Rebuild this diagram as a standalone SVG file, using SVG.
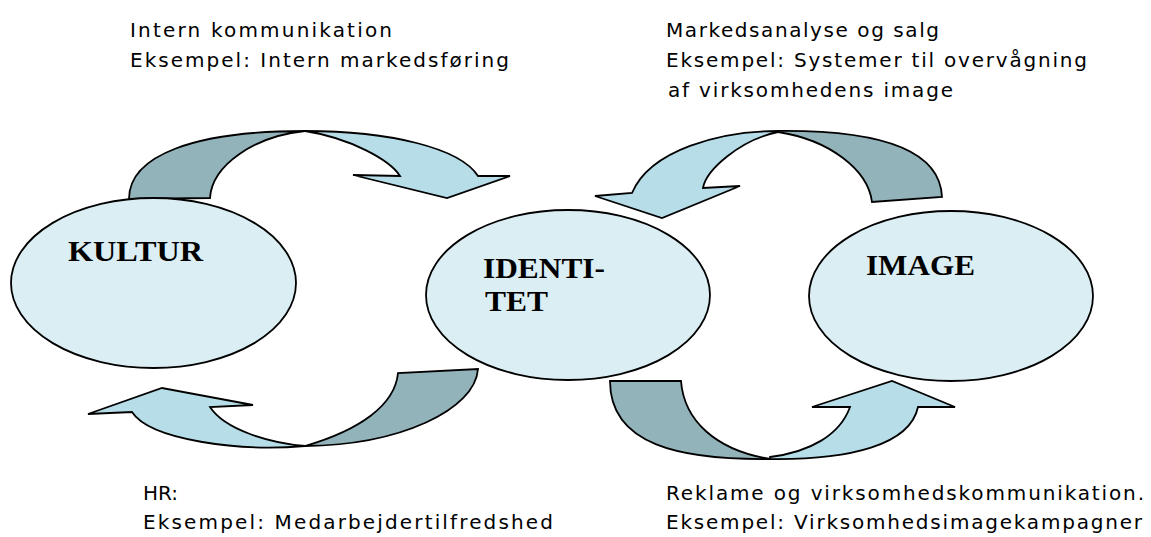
<svg xmlns="http://www.w3.org/2000/svg" width="1151" height="537" viewBox="0 0 1151 537">
<style>
.ell{fill:#DAEEF3;stroke:#000;stroke-width:1.8}
.lt{fill:#B6DDE8;stroke:#000;stroke-width:1.8;stroke-linejoin:miter}
.dk{fill:#93B3BB;stroke:#000;stroke-width:1.8;stroke-linejoin:miter}
.lbl{font-family:"Liberation Serif","Times New Roman",serif;font-weight:bold;font-size:29px;fill:#000}
.note{font-family:"DejaVu Sans",Verdana,sans-serif;font-size:20px;fill:#000}
</style>
<rect width="1151" height="537" fill="#fff"/>
<g id="connectors">
  <g id="arrow-top-left">
    <path class="dk" d="M129,199 C129,155 195,131 305,131 C255,136 212,165 210,198 Z"/>
    <path class="lt" d="M305,131 C390,131 460,148 478,176 L510,176 L447,198 L353,175 L400,176 C390,160 350,138 305,131 Z"/>
  </g>
  <g id="arrow-top-right">
    <path class="dk" d="M778,131 C880,130 940,150 942,197 L872,202 C868,170 830,140 778,132 Z"/>
    <path class="lt" d="M778,131 C720,131 650,150 632,193 L595,196 L662,218 L740,186 L703,188 C706,170 740,140 778,132 Z"/>
  </g>
  <g id="arrow-bottom-left">
    <path class="dk" d="M478,369 C475,410 400,445 305,446 C360,430 395,405 398,373 Z"/>
    <path class="lt" d="M305,446 C240,452 150,440 132,412 L88,414 L162,388 L253,405 L210,407 C225,430 270,443 305,446 Z"/>
  </g>
  <g id="arrow-bottom-right">
    <path class="dk" d="M610,381 C610,445 680,460 770,459 C715,450 684,420 681,381 Z"/>
    <path class="lt" d="M770,459 C850,460 910,445 918,407 L955,407 L892,381 L812,407 L850,407 C840,435 810,452 770,457 Z"/>
  </g>
</g>
<g id="node-kultur">
  <ellipse class="ell" cx="153.5" cy="283" rx="142.5" ry="85"/>
  <text class="lbl" x="68" y="261" textLength="135" lengthAdjust="spacingAndGlyphs">KULTUR</text>
</g>
<g id="node-identitet">
  <ellipse class="ell" cx="568" cy="295" rx="142" ry="85"/>
  <text class="lbl" x="483" y="278" textLength="122" lengthAdjust="spacingAndGlyphs">IDENTI-</text>
  <text class="lbl" x="485" y="311" textLength="63" lengthAdjust="spacingAndGlyphs">TET</text>
</g>
<g id="node-image">
  <ellipse class="ell" cx="951" cy="296" rx="142" ry="85"/>
  <text class="lbl" x="866" y="275" textLength="109" lengthAdjust="spacingAndGlyphs">IMAGE</text>
</g>
<g id="note-top-left">
  <text class="note" x="130" y="37" textLength="262" lengthAdjust="spacing">Intern kommunikation</text>
  <text class="note" x="130" y="67" textLength="379" lengthAdjust="spacing">Eksempel: Intern markedsføring</text>
</g>
<g id="note-top-right">
  <text class="note" x="666" y="37" textLength="273" lengthAdjust="spacing">Markedsanalyse og salg</text>
  <text class="note" x="666" y="67" textLength="421" lengthAdjust="spacing">Eksempel: Systemer til overvågning</text>
  <text class="note" x="668" y="97" textLength="285" lengthAdjust="spacing">af virksomhedens image</text>
</g>
<g id="note-bottom-left">
  <text class="note" x="143" y="500">HR:</text>
  <text class="note" x="143" y="529" textLength="410" lengthAdjust="spacing">Eksempel: Medarbejdertilfredshed</text>
</g>
<g id="note-bottom-right">
  <text class="note" x="666" y="500" textLength="478" lengthAdjust="spacing">Reklame og virksomhedskommunikation.</text>
  <text class="note" x="666" y="529" textLength="476" lengthAdjust="spacing">Eksempel: Virksomhedsimagekampagner</text>
</g>
</svg>
